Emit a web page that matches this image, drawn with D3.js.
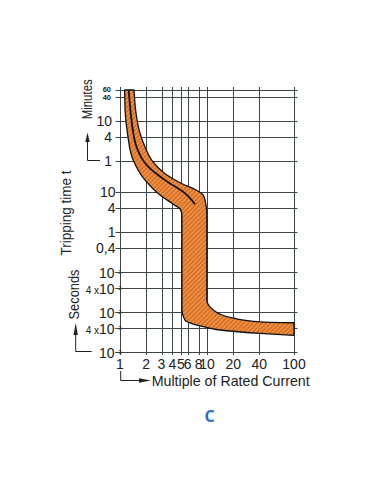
<!DOCTYPE html>
<html><head><meta charset="utf-8">
<script src="https://cdn.jsdelivr.net/npm/d3@7"></script>
<style>html,body{margin:0;padding:0;background:#fff;} svg{display:block;}</style>
</head><body>
<svg id="chart" width="381" height="492"></svg>
<script>
// ---- data ----
const xTicks = [1, 2, 3, 4, 5, 6, 8, 10, 20, 40, 100];
const minuteTicks = [60, 40, 10, 4, 1];
const minuteLabels = ["60", "40", "10", "4", "1"];
const secondTicks = [10, 4, 1, 0.4, 0.1, 0.04, 0.01, 0.004, 0.001];
const secondLabels = ["10", "4", "1", "0,4", "10^-1", "4 x10^-2", "10^-2", "4 x10^-3", "10^-3"];
// band boundaries: [multiple of rated current, tripping time in seconds]
const lowerBound = [[1.13,3600],[1.15,930],[1.22,293],[1.42,63],[1.94,20],[2.88,8.5],[4.1,5.0],[4.95,3.7],[5.15,2.6],[5.15,0.0115],[5.58,0.0063],[6.96,0.005],[9.06,0.0043],[16.8,0.0034],[40.7,0.00293],[100,0.00261]];
const upperBound = [[1.45,3600],[1.53,930],[1.70,293],[1.94,135],[2.31,63],[3.29,29],[5.1,16.5],[7.6,11.2],[9.06,8.4],[9.67,5.2],[9.95,2.9],[9.95,0.02],[10.8,0.0135],[13.5,0.0093],[20.1,0.007],[40.7,0.0057],[100,0.0054]];
const centerLine = [[1.26,3600],[1.33,930],[1.55,135],[2.12,43],[3.29,20],[5.6,9.3],[7.28,5.0]];
const xTitle = "Multiple of Rated Current";
const curveLabel = "C";

// ---- drawing ----
const svg = d3.select("#chart");
const FONT = "'Liberation Sans', Arial, Helvetica, sans-serif";
const gridColor = "#3c4646";
const x = d3.scaleLog().domain([1, 100]).range([120, 294]);
const y = d3.scaleLog().domain([0.001, 3600]).range([352, 90]);

const defs = svg.append("defs");
const pat = defs.append("pattern").attr("id", "hatch").attr("patternUnits", "userSpaceOnUse")
  .attr("width", 4.5).attr("height", 4.5);
pat.append("rect").attr("width", 4.5).attr("height", 4.5).attr("fill", "#f28a3a");
pat.append("path").attr("d", "M-1,1 L1,-1 M0,4.5 L4.5,0 M3.5,5.5 L5.5,3.5")
  .attr("stroke", "#7a4220").attr("stroke-width", 0.6);

// grid
const g = svg.append("g");
const allY = minuteTicks.map(m => m * 60).concat(secondTicks);
g.selectAll("line.h").data(allY).join("line").attr("class", "h")
  .attr("x1", 115.5).attr("x2", 297.5)
  .attr("y1", d => Math.round(y(d)) + 0.5).attr("y2", d => Math.round(y(d)) + 0.5)
  .attr("stroke", gridColor).attr("stroke-width", 1);
g.selectAll("line.v").data(xTicks).join("line").attr("class", "v")
  .attr("y1", 87).attr("y2", 355)
  .attr("x1", d => Math.round(x(d)) + 0.5).attr("x2", d => Math.round(x(d)) + 0.5)
  .attr("stroke", gridColor).attr("stroke-width", 1);

// band
const line = d3.line().x(d => x(d[0])).y(d => y(d[1])).curve(d3.curveMonotoneY);
const lowerPath = line(lowerBound);
const upperPath = line(upperBound.slice().reverse());
svg.append("path")
  .attr("d", lowerPath + "L" + upperPath.slice(1) + "Z")
  .attr("fill", "url(#hatch)").attr("stroke", "#111").attr("stroke-width", 1.3)
  .attr("stroke-linejoin", "round");
svg.append("path").attr("d", line(centerLine))
  .attr("fill", "none").attr("stroke", "#111").attr("stroke-width", 1.8);

// y labels: minutes
const lab = svg.append("g").attr("font-family", FONT).attr("fill", "#222");
minuteTicks.forEach((m, i) => {
  const small = i < 2;
  lab.append("text").attr("x", small ? 111 : 112).attr("y", y(m * 60) + (small ? (i === 0 ? -0.5 : 0.5) : 0))
    .attr("dy", "0.36em").attr("text-anchor", "end")
    .attr("font-size", small ? 7.5 : 14).attr("font-weight", small ? "bold" : "normal")
    .text(minuteLabels[i]);
});
// y labels: seconds
secondTicks.forEach((s, i) => {
  const lbl = secondLabels[i];
  const t = lab.append("text").attr("y", y(s)).attr("dy", "0.36em").attr("text-anchor", "end");
  if (lbl.includes("^")) {
    const [base, exp] = lbl.split("^");
    t.attr("x", 121.5);
    let main = base;
    if (base.includes("x")) {
      const idx = base.indexOf("x") + 1;
      t.append("tspan").attr("font-size", 10).text(base.slice(0, idx));
      main = base.slice(idx);
    }
    t.append("tspan").attr("font-size", 14).text(main);
    t.append("tspan").attr("font-size", 6).attr("dy", -4).text(exp.replace("-", "\u2212"));
  } else {
    t.attr("x", 115.5).attr("font-size", 14).text(lbl);
  }
});

// x labels
xTicks.forEach(v => {
  lab.append("text").attr("x", x(v)).attr("y", 369).attr("text-anchor", "middle")
    .attr("font-size", 14).text(v);
});
lab.append("text").attr("x", 151.7).attr("y", 385.5).attr("font-size", 14.5)
  .attr("textLength", 158).attr("lengthAdjust", "spacingAndGlyphs").text(xTitle);

// rotated titles
function vtext(txt, bx, cy, len) {
  lab.append("text").attr("transform", `translate(${bx},${cy}) rotate(-90)`)
    .attr("text-anchor", "middle").attr("font-size", 14.5)
    .attr("textLength", len).attr("lengthAdjust", "spacingAndGlyphs").text(txt);
}
vtext("Minutes", 91.5, 99.3, 40);
vtext("Tripping time t", 71, 213, 85);
vtext("Seconds", 79, 294.5, 50);

// brackets with arrows
const br = svg.append("g").attr("stroke", "#222").attr("fill", "none").attr("stroke-width", 1);
br.append("path").attr("d", "M100,160.5 H87.5 V141");
br.append("path").attr("d", "M91.7,351.5 H75.7 V334");
br.append("path").attr("d", "M120.7,371 V380.5 H141");
const ah = svg.append("g").attr("fill", "#222");
ah.append("polygon").attr("points", "85.3,142 87.5,132.5 89.7,142");
ah.append("polygon").attr("points", "73.5,335 75.7,323 77.9,335");
ah.append("polygon").attr("points", "139,378.3 151,380.5 139,382.7");

// curve label
svg.append("text").attr("x", 209.5).attr("y", 421.5).attr("text-anchor", "middle")
  .attr("font-family", "'Open Sans', 'Noto Sans', sans-serif").attr("font-weight", "bold")
  .attr("font-size", 16).attr("fill", "#1f6fc4").text(curveLabel);
</script>
</body></html>
